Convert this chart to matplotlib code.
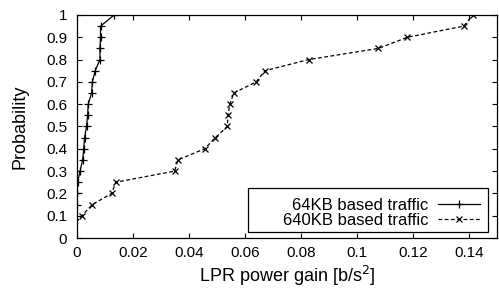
import matplotlib
matplotlib.use("Agg")
import matplotlib.pyplot as plt
from matplotlib.patches import Rectangle

# ----------------------------------------------------------------------------
# Data (CDF of LPR power gain)
# ----------------------------------------------------------------------------
GAIN_64KB = [0.0, 0.0, 0.0002, 0.0011, 0.0020, 0.0024, 0.0027, 0.0034, 0.0038,
             0.0040, 0.0052, 0.0055, 0.0065, 0.0082, 0.0082, 0.0084, 0.0084,
             0.0133]
PROB_64KB = [0.15, 0.2, 0.25, 0.3, 0.35, 0.4, 0.45, 0.5, 0.55,
             0.6, 0.65, 0.7, 0.75, 0.8, 0.85, 0.9, 0.95,
             1.0]

GAIN_640KB = [-0.0017, 0.0017, 0.0055, 0.0124, 0.0138, 0.0349, 0.0360, 0.0456,
              0.0494, 0.0537, 0.0539, 0.0546, 0.0560, 0.0640, 0.0671, 0.0827,
              0.1076, 0.1180, 0.1381, 0.1414]
PROB_640KB = [0.05, 0.1, 0.15, 0.2, 0.25, 0.3, 0.35, 0.4,
              0.45, 0.5, 0.55, 0.6, 0.65, 0.7, 0.75, 0.8,
              0.85, 0.9, 0.95, 1.0]

LABELS = ["64KB based traffic", "640KB based traffic"]
X_TICKS = [0, 0.02, 0.04, 0.06, 0.08, 0.1, 0.12, 0.14]
X_TICKLABELS = ["0", "0.02", "0.04", "0.06", "0.08", "0.1", "0.12", "0.14"]
Y_TICKS = [0, 0.1, 0.2, 0.3, 0.4, 0.5, 0.6, 0.7, 0.8, 0.9, 1.0]
Y_TICKLABELS = ["0", "0.1", "0.2", "0.3", "0.4", "0.5", "0.6", "0.7", "0.8", "0.9", "1"]

plt.rcParams.update({
    "font.family": "Liberation Sans",
    "font.size": 11,
    "axes.linewidth": 0.9,
})


def main():
    fig = plt.figure(figsize=(4.99, 2.88), dpi=100)
    ax = fig.add_axes([0.1543, 0.1736, 0.8417, 0.7744])

    ax.plot(GAIN_64KB, PROB_64KB, color="black", lw=0.9, marker="+",
            ms=6, mew=0.9, label=LABELS[0])
    ax.plot(GAIN_640KB, PROB_640KB, color="black", lw=0.9, ls=(0, (3, 2)),
            marker="x", ms=5, mew=0.9, label=LABELS[1])

    ax.set_xlim(0, 0.15)
    ax.set_ylim(0, 1)
    ax.set_xticks(X_TICKS)
    ax.set_xticklabels(X_TICKLABELS)
    ax.set_yticks(Y_TICKS)
    ax.set_yticklabels(Y_TICKLABELS)
    ax.tick_params(direction="in", length=3.6, width=0.8, top=True, right=True,
                   labelsize=11)
    ax.tick_params(axis="y", pad=7)
    ax.tick_params(axis="x", pad=6)

    ax.set_xlabel("LPR power gain [b/s$^2$]", fontsize=13, labelpad=2.5)
    ax.set_ylabel("Probability", fontsize=13, labelpad=13)

    # legend frame drawn as in the gnuplot original (text right-aligned)
    ax.add_patch(Rectangle((0.408, 0.028), 0.571, 0.195, transform=ax.transAxes,
                           facecolor="white", edgecolor="black", lw=0.9,
                           zorder=4))
    leg = ax.legend(loc="lower right", bbox_to_anchor=(0.9595, 0.045),
                    frameon=False, markerfirst=False, borderpad=0,
                    borderaxespad=0, handlelength=2.5, handletextpad=0.6,
                    labelspacing=0.0, fontsize=12)
    leg.set_zorder(5)

    fig.savefig("out.png", dpi=100)
    plt.close(fig)


if __name__ == "__main__":
    main()
